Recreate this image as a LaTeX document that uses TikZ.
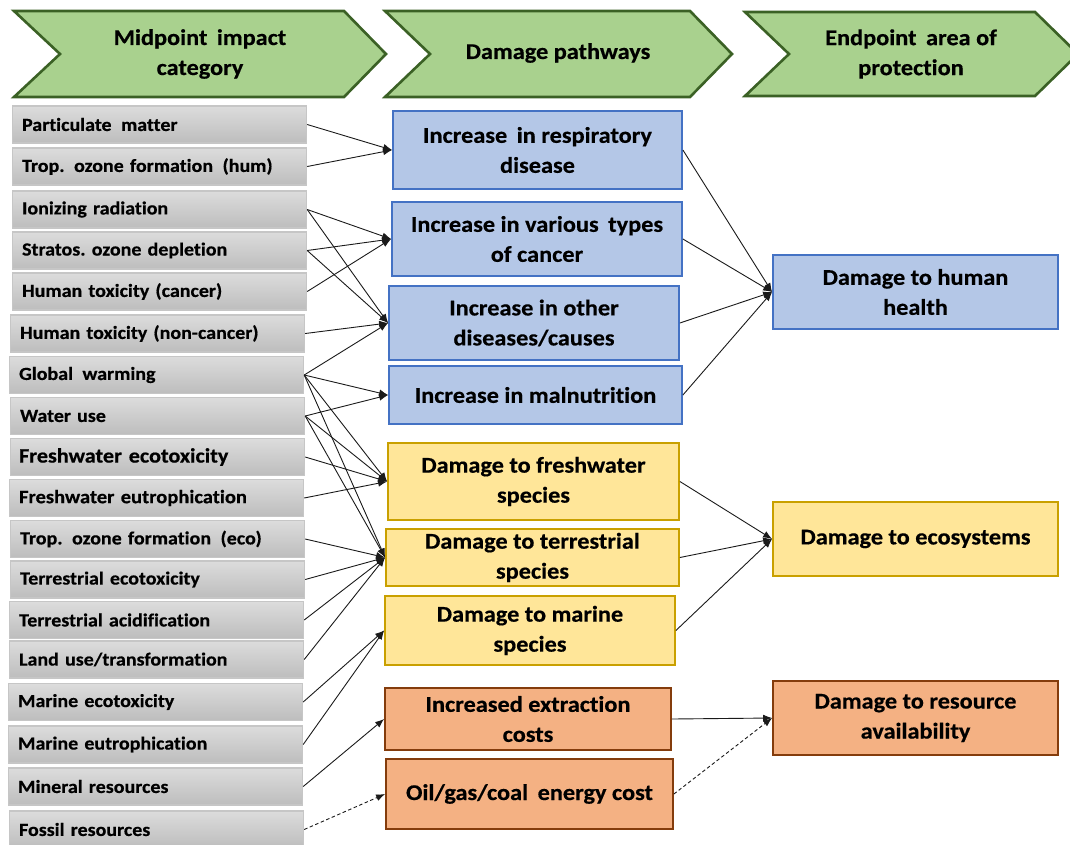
\documentclass[tikz,border=0pt]{standalone}
\usepackage{fontspec}
\setmainfont{Carlito}[FakeStretch=1.08, Ligatures=NoCommon, BoldFeatures={FakeBold=0.5}]
\usetikzlibrary{arrows.meta}
\frenchspacing

\definecolor{hdrfill}{HTML}{A9D18E}
\definecolor{hdrline}{HTML}{3B6125}
\definecolor{graytop}{HTML}{DCDCDC}
\definecolor{graybot}{HTML}{BDBDBD}
\definecolor{grayline}{HTML}{C6C6C6}
\definecolor{bluefill}{HTML}{B4C7E7}
\definecolor{blueline}{HTML}{4472C4}
\definecolor{yelfill}{HTML}{FFE699}
\definecolor{yelline}{HTML}{C9A000}
\definecolor{orfill}{HTML}{F4B183}
\definecolor{orline}{HTML}{843C0C}
\definecolor{linkcol}{HTML}{1A1A1A}

% slightly wider word gap used in some labels
\newcommand\wgap{\hspace{0.18em}}

\tikzset{
  hdrshape/.style={fill=hdrfill, draw=hdrline, line width=2.6pt, line join=miter},
  hdrtext/.style={align=center, font=\fontsize{22.5}{30}\selectfont\bfseries, text=black},
  catbox/.style={anchor=west, top color=graytop, bottom color=graybot, draw=grayline,
    line width=1.2pt, minimum height=37pt, text width=275pt, inner xsep=9.5pt,
    align=left, font=\fontsize{18.5}{22}\selectfont\bfseries},
  pathbox/.style={line width=1.8pt, align=center, inner sep=0pt,
    font=\fontsize{22.5}{30}\selectfont\bfseries},
  humbox/.style={pathbox, fill=bluefill, draw=blueline},
  ecobox/.style={pathbox, fill=yelfill, draw=yelline},
  resbox/.style={pathbox, fill=orfill, draw=orline},
  link/.style={draw=linkcol, line width=0.9pt, -{Latex[length=9pt,width=7pt]}},
  dlink/.style={link, dashed, dash pattern=on 3.5pt off 2.5pt}
}

\begin{document}
\begin{tikzpicture}[x=1pt, y=-1pt]
\useasboundingbox (0,0) rectangle (1070,844);
\clip (0,0) rectangle (1070,844);

% column headers
\draw[hdrshape] (14,11) -- (344,11) -- (386,54) -- (344,97) -- (14,97) -- (60,54) -- cycle;
\draw[hdrshape] (385,11) -- (690,11) -- (732,54) -- (690,97) -- (385,97) -- (430,54) -- cycle;
\draw[hdrshape] (745,12) -- (1035,12) -- (1078,54) -- (1035,96) -- (745,96) -- (789,54) -- cycle;
\node[hdrtext] (h1) at (200,54) {Midpoint \wgap impact\\category};
\node[hdrtext] (h2) at (558,53) {Damage pathways};
\node[hdrtext] (h3) at (911,54) {Endpoint \wgap area of\\protection};

% midpoint impact categories
\node[catbox] (pm)   at (12,124.5) {Particulate \wgap matter};
\node[catbox] (tofh) at (12,166.5) {Trop. \wgap ozone formation \wgap (hum)};
\node[catbox] (ir)   at (12,209.5) {Ionizing radiation};
\node[catbox] (sod)  at (12,250.5) {Stratos. ozone depletion};
\node[catbox] (htc)  at (12,291.5) {Human toxicity (cancer)};
\node[catbox] (htn)  at (10,333.5) {Human toxicity (non-cancer)};
\node[catbox] (gw)   at (9,375)    {Global \wgap warming};
\node[catbox] (wu)   at (10,416)   {Water use};
\node[catbox, font=\fontsize{20.5}{22}\selectfont\bfseries, inner xsep=8.5pt, text width=277pt]
                     (fet)  at (10,457) {Freshwater ecotoxicity};
\node[catbox, font=\fontsize{19}{22}\selectfont\bfseries] (feu) at (9,498) {Freshwater eutrophication};
\node[catbox] (tofe) at (10,539)   {Trop. \wgap ozone formation \wgap (eco)};
\node[catbox] (tet)  at (10,579.5) {Terrestrial ecotoxicity};
\node[catbox] (ta)   at (9,620)    {Terrestrial acidification};
\node[catbox] (lu)   at (9,659.5)  {Land use/transformation};
\node[catbox] (met)  at (8,702)    {Marine ecotoxicity};
\node[catbox] (meu)  at (8,744.5)  {Marine eutrophication};
\node[catbox] (mr)   at (8,786.5)  {Mineral resources};
\node[catbox] (fr)   at (9,829.5)  {Fossil resources};

% damage pathways
\node[humbox, minimum width=289pt, minimum height=78pt] (resp) at (537.5,150) {Increase \wgap in respiratory\\disease};
\node[humbox, minimum width=290pt, minimum height=74pt] (canc) at (537,239)   {Increase in various \wgap types\\of cancer};
\node[humbox, minimum width=290pt, minimum height=74pt] (othr) at (534,323)   {Increase in other\\diseases/causes};
\node[humbox, minimum width=293pt, minimum height=58pt] (maln) at (535.5,395) {Increase in malnutrition};
\node[ecobox, minimum width=291pt, minimum height=77pt] (fws)  at (533.5,481.5) {Damage to freshwater\\species};
\node[ecobox, minimum width=293pt, minimum height=57pt] (tsp)  at (532.5,557.5) {Damage to terrestrial\\species};
\node[ecobox, minimum width=290pt, minimum height=69pt] (msp)  at (530,630.5)   {Damage to marine\\species};
\node[resbox, minimum width=286pt, minimum height=62pt] (extr) at (528,719)     {Increased extraction\\costs};
\node[resbox, minimum width=287pt, minimum height=70pt] (ogc)  at (529.5,794)   {Oil/gas/coal \wgap energy cost};

% endpoint areas of protection
\node[humbox, minimum width=285pt, minimum height=74pt] (hh)  at (915.5,292) {Damage to human\\health};
\node[ecobox, minimum width=285pt, minimum height=74pt] (eco) at (915.5,539) {Damage to ecosystems};
\node[resbox, minimum width=285pt, minimum height=74pt] (res) at (915.5,718) {Damage to resource\\availability};

% midpoint -> damage pathway
\draw[link] (pm.east)   -- (resp.west);
\draw[link] (tofh.east) -- (resp.west);
\draw[link] (ir.east)   -- (canc.west);
\draw[link] (ir.east)   -- (othr.west);
\draw[link] (sod.east)  -- (canc.west);
\draw[link] (sod.east)  -- (othr.west);
\draw[link] (htc.east)  -- (canc.west);
\draw[link] (htn.east)  -- (othr.west);
\draw[link] (gw.east)   -- (othr.west);
\draw[link] (gw.east)   -- (maln.west);
\draw[link] (gw.east)   -- (fws.west);
\draw[link] (gw.east)   -- (tsp.west);
\draw[link] (wu.east)   -- (maln.west);
\draw[link] (wu.east)   -- (fws.west);
\draw[link] (wu.east)   -- (tsp.west);
\draw[link] (fet.east)  -- (fws.west);
\draw[link] (feu.east)  -- (fws.west);
\draw[link] (tofe.east) -- (tsp.west);
\draw[link] (tet.east)  -- (tsp.west);
\draw[link] (ta.east)   -- (tsp.west);
\draw[link] (lu.east)   -- (tsp.west);
\draw[link] (met.east)  -- (msp.west);
\draw[link] (meu.east)  -- (msp.west);
\draw[link] (mr.east)   -- (extr.west);
\draw[dlink] (fr.east)  -- (ogc.west);

% damage pathway -> endpoint
\draw[link] (resp.east) -- (hh.west);
\draw[link] (canc.east) -- (hh.west);
\draw[link] (othr.east) -- (hh.west);
\draw[link] (maln.east) -- (hh.west);
\draw[link] (fws.east)  -- (eco.west);
\draw[link] (tsp.east)  -- (eco.west);
\draw[link] (msp.east)  -- (eco.west);
\draw[link] (extr.east) -- (res.west);
\draw[dlink] (ogc.east) -- (res.west);
\end{tikzpicture}
\end{document}
